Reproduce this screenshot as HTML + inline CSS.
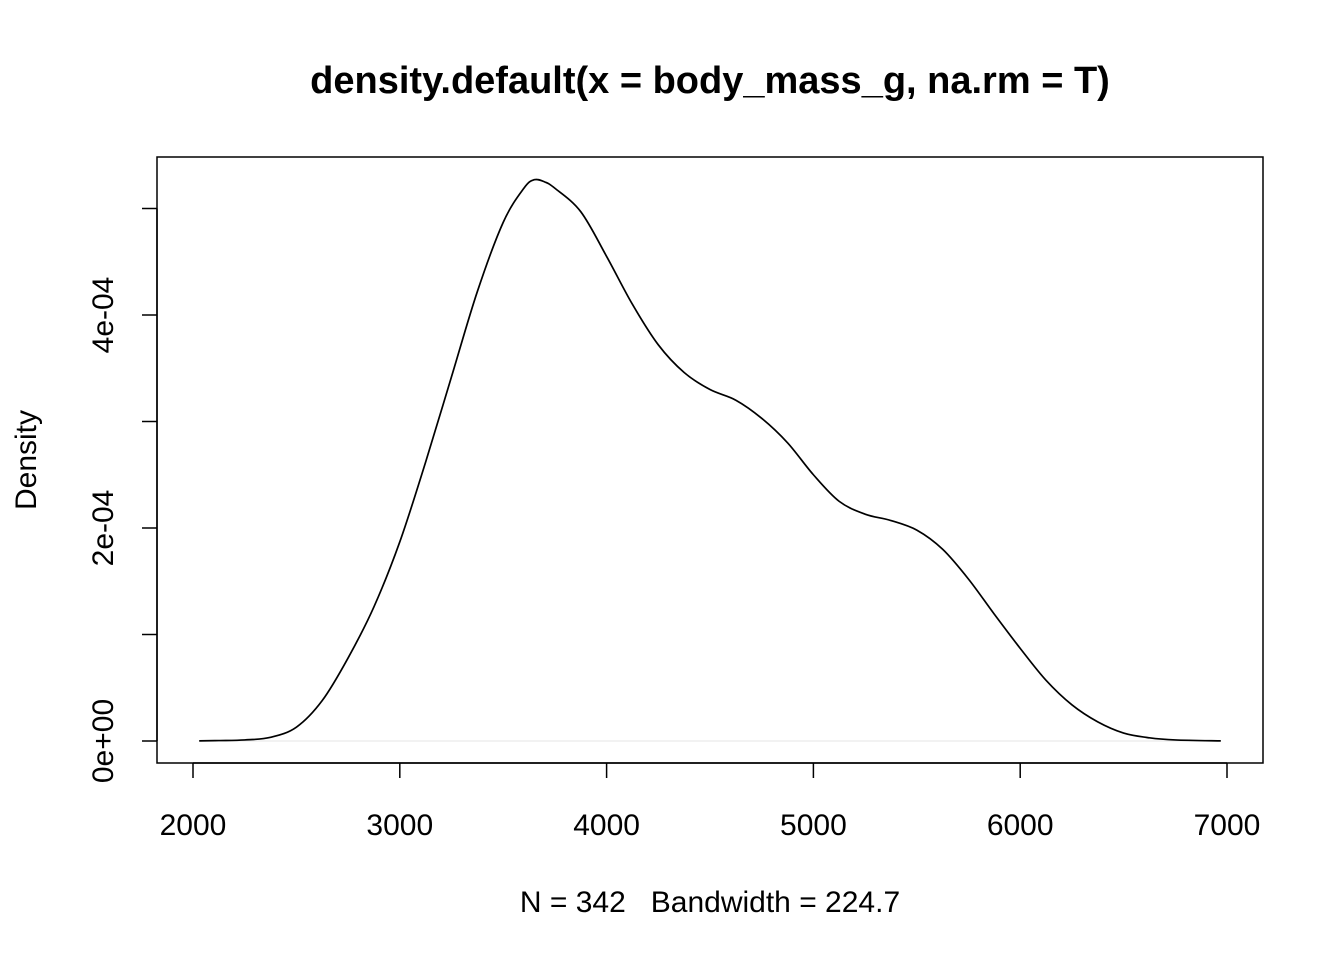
<!DOCTYPE html>
<html><head><meta charset="utf-8"><style>
body{margin:0;background:#fff}
svg{display:block;font-family:"Liberation Sans",Arial,sans-serif}
</style></head><body>
<svg id="chart" width="1344" height="960" viewBox="0 0 1344 960">
<text x="710" y="93" text-anchor="middle" font-size="38" font-weight="bold">density.default(x = body_mass_g, na.rm = T)</text>
<rect x="157" y="157" width="1106" height="606" fill="none" stroke="#000" stroke-width="1.5"/>
<text x="710" y="912" text-anchor="middle" font-size="30" xml:space="preserve" style="white-space:pre">N = 342   Bandwidth = 224.7</text>
<text transform="translate(36,460) rotate(-90)" text-anchor="middle" font-size="30">Density</text>
<g id="xaxis"></g>
<g id="yaxis"></g>
<line id="zero" stroke="#e6e6e6" stroke-width="1"/>
<path id="curve" fill="none" stroke="#000" stroke-width="1.7"/>
</svg>
<script>
const xVals=[2030,2125,2250,2375,2500,2625,2750,2875,3000,3125,3250,3375,3500,3600,3650,3700,3750,3875,4000,4125,4250,4375,4500,4625,4750,4875,5000,5125,5250,5375,5500,5625,5750,5875,6000,6125,6250,6375,6500,6625,6750,6970];
const densVals=[0.0000001,0.0000004,0.000001,0.0000035,0.000013,0.000038,0.000078,0.000126,0.000187,0.000262,0.000342,0.000422,0.000487,0.000519,0.000527,0.000525,0.000519,0.000497,0.000455,0.00041,0.000372,0.000346,0.00033,0.00032,0.000303,0.00028,0.00025,0.000225,0.000213,0.000207,0.000198,0.00018,0.000152,0.000119,0.000087,0.000057,0.000034,0.000018,0.0000075,0.000003,0.000001,0.0000001];
const xTicks=[2000,3000,4000,5000,6000,7000];
const yTicks=[0,0.0001,0.0002,0.0003,0.0004,0.0005];
const yTickLabels={0:"0e+00",0.0002:"2e-04",0.0004:"4e-04"};
const X=v=>193+(v-2000)*(1227-193)/5000;
const Y=v=>741-v*(741-315)/0.0004;
const NS="http://www.w3.org/2000/svg";
function mk(t,a,p){const e=document.createElementNS(NS,t);for(const k in a)e.setAttribute(k,a[k]);p.appendChild(e);return e;}
const xa=document.getElementById('xaxis'),ya=document.getElementById('yaxis');
mk('line',{x1:X(2000),x2:X(7000),y1:763,y2:763,stroke:'#000','stroke-width':1.5},xa);
xTicks.forEach(t=>{
 const l=mk('line',{x1:X(t),x2:X(t),y1:763,y2:778,stroke:'#000','stroke-width':1.5},xa);
 
 
 const tx=mk('text',{x:X(t),y:835,'text-anchor':'middle','font-size':30},xa);tx.textContent=t;
 
 
});
mk('line',{x1:157,x2:157,y1:Y(0),y2:Y(0.0005),stroke:'#000','stroke-width':1.5},ya);
yTicks.forEach(t=>{
 const l=mk('line',{x1:142,x2:157,y1:Y(t),y2:Y(t),stroke:'#000','stroke-width':1.5},ya);
 
 
 if(yTickLabels[t]!==undefined){
  const tx=mk('text',{transform:`translate(113,${Y(t)}) rotate(-90)`,'text-anchor':'middle','font-size':30},ya);tx.textContent=yTickLabels[t];
  
  
 }
});
const z=document.getElementById('zero');
z.setAttribute('x1',X(xVals[0]));z.setAttribute('x2',X(xVals[xVals.length-1]));z.setAttribute('y1',Y(0));z.setAttribute('y2',Y(0));
const pts=xVals.map((x,i)=>[X(x),Y(densVals[i])]);
let d=`M${pts[0][0]},${pts[0][1]}`;
for(let i=0;i<pts.length-1;i++){
 const p0=pts[Math.max(0,i-1)],p1=pts[i],p2=pts[i+1],p3=pts[Math.min(pts.length-1,i+2)];
 const c1=[p1[0]+(p2[0]-p0[0])/6,p1[1]+(p2[1]-p0[1])/6],c2=[p2[0]-(p3[0]-p1[0])/6,p2[1]-(p3[1]-p1[1])/6];
 d+=` C${c1[0]},${c1[1]} ${c2[0]},${c2[1]} ${p2[0]},${p2[1]}`;
}
document.getElementById('curve').setAttribute('d',d);
</script>
</body></html>
